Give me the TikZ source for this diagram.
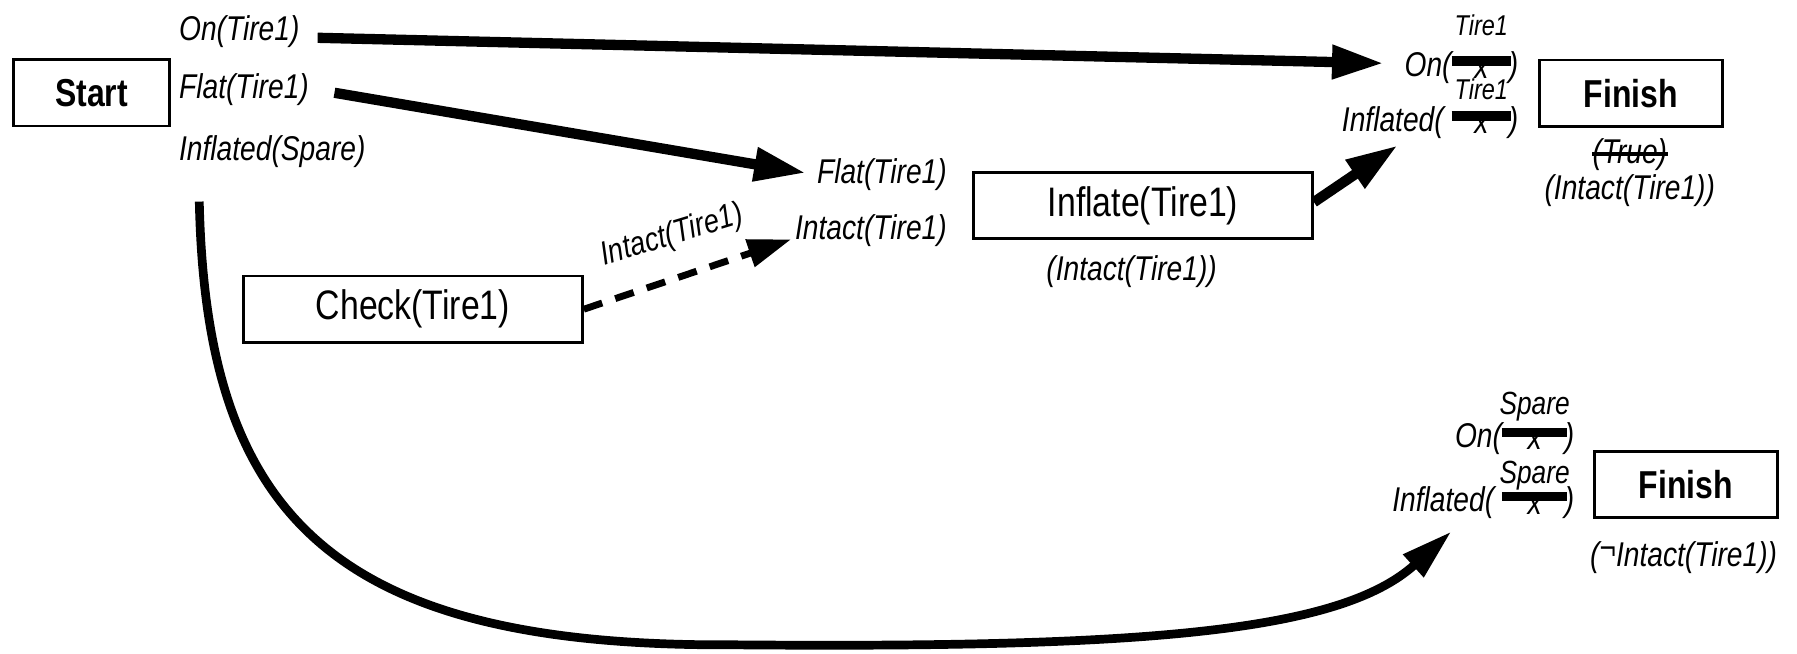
\documentclass[tikz,border=0pt]{standalone}
\usepackage{fontspec}
\setmainfont{Liberation Sans}[FakeStretch=0.82]
\usepackage{tikz}
\usetikzlibrary{arrows.meta,calc}
\newlength\barwd
\newcommand{\tiresz}{\fontsize{12.5pt}{14pt}\selectfont}
\newcommand{\sparesz}{\fontsize{14pt}{16pt}\selectfont}
% struck variable x, constant written above it
\newcommand{\swapx}[3][16pt]{%
  \setlength\barwd{#2}%
  \makebox[\barwd]{\smash{\raisebox{#1}{#3}}}%
  \hspace{-\barwd}\makebox[\barwd]{\raisebox{-0.06em}{x}}%
  \hspace{-\barwd}\rule[0.32em]{\barwd}{0.27em}}
\tikzset{
  lbl/.style={font=\fontsize{15pt}{18pt}\selectfont\itshape, inner sep=0pt},
  act/.style={draw, line width=1.2pt, minimum width=148pt, minimum height=29pt,
    inner sep=0pt, font=\fontsize{18pt}{21pt}\selectfont},
  endbox/.style={draw, line width=1.2pt, minimum height=29pt,
    inner sep=0pt, font=\fontsize{17pt}{20pt}\selectfont\bfseries},
  link/.style={line width=4.5pt, -{Triangle[length=22.5pt,width=14pt]}},
  maybe/.style={line width=3pt, dash pattern=on 8.5pt off 6pt,
    -{Triangle[length=19pt,width=12pt]}},
}

\begin{document}
\begin{tikzpicture}[x=0.5pt,y=-0.5pt]
  \useasboundingbox (0,0) rectangle (1569,571);
  \node[endbox, minimum width=68pt] (start) at (80,81) {Start};
  \node[lbl, anchor=base west] (onT) at (156,35) {On(Tire1)};
  \node[lbl, anchor=base west] (flatT) at (156,86) {Flat(Tire1)};
  \node[lbl, anchor=base west] (inflS) at (156,140) {Inflated(Spare)};

  \node[lbl, anchor=base east] (flatP) at (827,160) {Flat(Tire1)};
  \node[lbl, anchor=base east] (intactP) at (827,209) {Intact(Tire1)};
  \node[act] (inflate) at (998,179.5) {Inflate(Tire1)};
  \node[lbl, anchor=base] (intactI) at (988,244.5) {(Intact(Tire1))};
  \node[act] (check) at (360.5,270) {Check(Tire1)};
  \node[lbl, font=\fontsize{14.5pt}{16pt}\selectfont\itshape, rotate=17] (intactE) at (587,206) {Intact(Tire1)};

  \node[lbl, anchor=base east] (onF) at (1326,67) {On(\swapx[18pt]{26pt}{\tiresz Tire1}\hspace{-1pt})};
  \node[lbl, anchor=base east] (inflF) at (1326,115) {Inflated( \swapx[14pt]{26pt}{\tiresz Tire1}\hspace{-1pt})};
  \node[endbox, minimum width=80pt] (finA) at (1424,81.5) {Finish};
  \node[lbl, anchor=base] (trueF) at (1423,142.5) {(True)};
  \node[lbl, anchor=base] (intactF) at (1423,174.5) {(Intact(Tire1))};

  \node[lbl, anchor=base east] (onS) at (1375,391) {On(\swapx[14.5pt]{28.5pt}{\sparesz Spare}\hspace{-1pt})};
  \node[lbl, anchor=base east] (inflSF) at (1375,447) {Inflated( \swapx[12.5pt]{28.5pt}{\sparesz Spare}\hspace{-1pt})};
  \node[endbox, minimum width=80pt] (finB) at (1472,423) {Finish};
  \node[lbl, anchor=base] (notI) at (1470,494.5) {(\raisebox{0.2em}{\textup{¬}}Intact(Tire1))};

  \draw[line width=1.5pt] ($(trueF.base west)+(0,-8)$) -- ($(trueF.base east)+(0,-8)$);

  \draw[link] ($(onT.base east)+(15.5,-2)$) -- ($(onF.west)+(-18,-4)$);
  \draw[link] ($(flatT.base east)+(22,-5)$) -- ($(flatP.base west)+(-9.5,-9)$);
  \draw[maybe] (check.east) -- ($(intactP.base west)+(-3,0)$);
  \draw[link] ($(inflate.east)+(0,-3)$) -- ($(inflF.base west)+(49,12)$);
  \draw[link, line width=3.8pt, -{Triangle[length=22.5pt,width=12.5pt]}]
    ($(inflS.base west)+(18,36)$) .. controls (180,450) and (290,565) .. (640,563)
    .. controls (1000,566) and (1170,552) .. ($(inflSF.base west)+(52,17)$);
\end{tikzpicture}
\end{document}
